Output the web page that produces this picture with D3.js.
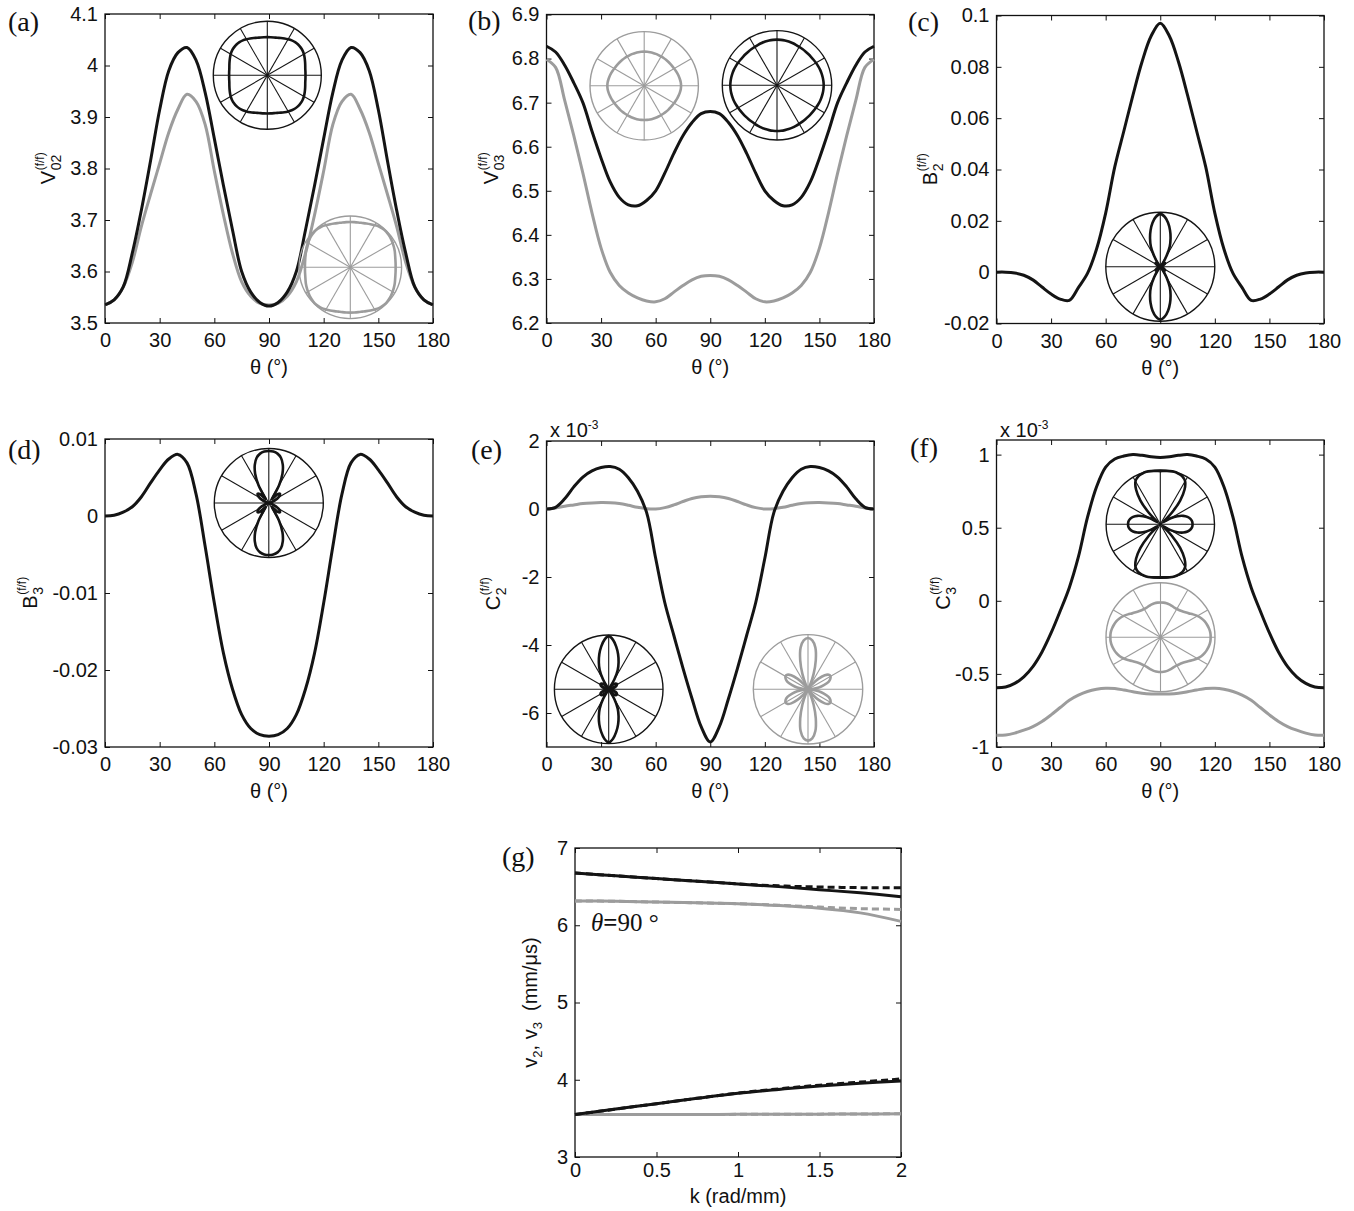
<!DOCTYPE html>
<html><head><meta charset="utf-8">
<script src="https://cdn.jsdelivr.net/npm/d3@7"></script>
<style>body{margin:0;background:#fff} svg{display:block}</style>
</head><body>
<svg id="c" width="1354" height="1211"></svg>
<script>
// ---------- data ----------
const theta = [0,5,10,15,20,25,30,35,40,45,50,55,60,65,70,75,80,85,90,95,100,105,110,115,120,125,130,135,140,145,150,155,160,165,170,175,180];
const thetaTicks = [0,30,60,90,120,150,180];

const v02Black = [3.535,3.545,3.57,3.636,3.72,3.815,3.914,3.99,4.025,4.035,4.01,3.947,3.858,3.767,3.68,3.60,3.56,3.54,3.533,3.54,3.56,3.60,3.68,3.767,3.858,3.947,4.01,4.035,4.025,3.99,3.914,3.815,3.72,3.636,3.57,3.545,3.535];
const v02Gray  = [3.535,3.545,3.57,3.618,3.688,3.75,3.81,3.87,3.915,3.944,3.93,3.885,3.795,3.71,3.635,3.58,3.552,3.538,3.535,3.538,3.552,3.58,3.635,3.71,3.795,3.885,3.93,3.944,3.915,3.87,3.81,3.75,3.688,3.618,3.57,3.545,3.535];
const v02Ticks = [3.5,3.6,3.7,3.8,3.9,4,4.1];

const v03Black = [6.828,6.815,6.785,6.745,6.70,6.635,6.574,6.52,6.485,6.468,6.466,6.478,6.50,6.54,6.585,6.625,6.655,6.675,6.68,6.675,6.655,6.625,6.585,6.54,6.50,6.478,6.466,6.468,6.485,6.52,6.574,6.635,6.70,6.745,6.785,6.815,6.828];
const v03Gray  = [6.798,6.78,6.705,6.625,6.54,6.45,6.37,6.315,6.285,6.268,6.257,6.25,6.248,6.255,6.27,6.285,6.298,6.306,6.308,6.306,6.298,6.285,6.27,6.255,6.248,6.25,6.257,6.268,6.285,6.315,6.37,6.45,6.54,6.625,6.705,6.78,6.798];
const v03Ticks = [6.2,6.3,6.4,6.5,6.6,6.7,6.8,6.9];

const b2Black = [0,0,-0.0003,-0.0012,-0.003,-0.0058,-0.0085,-0.0105,-0.011,-0.006,-0.0005,0.009,0.023,0.041,0.055,0.069,0.082,0.092,0.097,0.092,0.082,0.069,0.055,0.041,0.023,0.009,-0.0005,-0.006,-0.011,-0.0105,-0.0085,-0.0058,-0.003,-0.0012,-0.0003,0,0];
const b2Ticks = [-0.02,0,0.02,0.04,0.06,0.08,0.1];

const b3Black = [0,0.0001,0.0005,0.0012,0.0025,0.0043,0.006,0.0074,0.008,0.0069,0.0028,-0.004,-0.0113,-0.0178,-0.0225,-0.0258,-0.0276,-0.0284,-0.0286,-0.0284,-0.0276,-0.0258,-0.0225,-0.0178,-0.0113,-0.004,0.0028,0.0069,0.008,0.0074,0.006,0.0043,0.0025,0.0012,0.0005,0.0001,0];
const b3Ticks = [-0.03,-0.02,-0.01,0,0.01];

// C2, C3 in units of 1e-3
const c2Black = [0,0.05,0.3,0.65,0.94,1.12,1.22,1.25,1.17,0.92,0.52,-0.1,-1.45,-2.75,-3.72,-4.68,-5.58,-6.4,-6.85,-6.4,-5.58,-4.68,-3.72,-2.75,-1.45,-0.1,0.52,0.92,1.17,1.25,1.22,1.12,0.94,0.65,0.3,0.05,0];
const c2Gray  = [0,0.03,0.08,0.12,0.16,0.18,0.19,0.185,0.16,0.11,0.05,0.01,0,0.04,0.12,0.22,0.31,0.36,0.375,0.36,0.31,0.22,0.12,0.04,0,0.01,0.05,0.11,0.16,0.185,0.19,0.18,0.16,0.12,0.08,0.03,0];
const c2Ticks = [-6,-4,-2,0,2];

const c3Black = [-0.595,-0.59,-0.565,-0.52,-0.45,-0.35,-0.22,-0.07,0.09,0.3,0.57,0.78,0.915,0.97,0.99,1.0,0.995,0.985,0.98,0.985,0.995,1.0,0.99,0.97,0.915,0.78,0.57,0.3,0.09,-0.07,-0.22,-0.35,-0.45,-0.52,-0.565,-0.59,-0.595];
const c3Gray  = [-0.92,-0.918,-0.905,-0.885,-0.86,-0.825,-0.78,-0.73,-0.68,-0.645,-0.62,-0.605,-0.598,-0.6,-0.61,-0.622,-0.632,-0.637,-0.638,-0.637,-0.632,-0.622,-0.61,-0.6,-0.598,-0.605,-0.62,-0.645,-0.68,-0.73,-0.78,-0.825,-0.86,-0.885,-0.905,-0.918,-0.92];
const c3Ticks = [-1,-0.5,0,0.5,1];

// panel (g)
const kVals = [0,0.25,0.5,0.75,1,1.25,1.5,1.75,2];
const kTicks = [0,0.5,1,1.5,2];
const vTicks = [3,4,5,6,7];
const v3BlackSolid  = [6.675,6.64,6.605,6.57,6.535,6.5,6.46,6.42,6.37];
const v3BlackDashed = [6.675,6.64,6.605,6.57,6.535,6.51,6.495,6.487,6.485];
const v3GraySolid   = [6.315,6.31,6.3,6.29,6.278,6.255,6.22,6.16,6.05];
const v3GrayDashed  = [6.315,6.31,6.3,6.29,6.278,6.26,6.235,6.215,6.205];
const v2BlackSolid  = [3.55,3.62,3.69,3.76,3.825,3.875,3.92,3.955,3.985];
const v2BlackDashed = [3.55,3.62,3.69,3.76,3.828,3.882,3.93,3.97,4.01];
const v2GraySolid   = [3.55,3.55,3.55,3.551,3.552,3.553,3.555,3.557,3.56];
const v2GrayDashed  = [3.55,3.55,3.55,3.551,3.552,3.553,3.555,3.557,3.56];

// ---------- drawing ----------
const BLACK = '#141414', GRAY = '#9c9c9c';
const SANS = '"Liberation Sans", Arial, sans-serif';
const SERIF = '"Liberation Serif", "Times New Roman", serif';
const svg = d3.select('#c');
const fmt = d => String(+(+d).toFixed(4));

function makePanel(cfg) {
  const x = d3.scaleLinear().domain(cfg.xDomain).range([cfg.x0, cfg.x1]);
  const y = d3.scaleLinear().domain(cfg.yDomain).range([cfg.y1, cfg.y0]);
  const g = svg.append('g');
  const style = sel => {
    sel.selectAll('text').attr('font-family', SANS).attr('font-size', 20).attr('fill', '#111');
    sel.selectAll('line').attr('stroke', '#111').attr('stroke-width', 1);
    sel.select('.domain').remove();
  };
  g.append('g').attr('transform', `translate(0,${cfg.y1})`)
    .call(d3.axisBottom(x).tickValues(cfg.xTicks).tickFormat(fmt).tickSizeInner(-5).tickSizeOuter(0).tickPadding(cfg.xPad || 10)).call(style);
  g.append('g').attr('transform', `translate(0,${cfg.y0})`)
    .call(d3.axisTop(x).tickValues(cfg.xTicks).tickFormat('').tickSizeInner(-5).tickSizeOuter(0)).call(style);
  g.append('g').attr('transform', `translate(${cfg.x0},0)`)
    .call(d3.axisLeft(y).tickValues(cfg.yTicks).tickFormat(fmt).tickSizeInner(-5).tickSizeOuter(0).tickPadding(7)).call(style);
  g.append('g').attr('transform', `translate(${cfg.x1},0)`)
    .call(d3.axisRight(y).tickValues(cfg.yTicks).tickFormat('').tickSizeInner(-5).tickSizeOuter(0)).call(style);
  g.append('rect').attr('x', cfg.x0).attr('y', cfg.y0).attr('width', cfg.x1 - cfg.x0).attr('height', cfg.y1 - cfg.y0)
    .attr('fill', 'none').attr('stroke', '#111').attr('stroke-width', 1.3);
  g.append('text').attr('x', (cfg.x0 + cfg.x1) / 2).attr('y', cfg.y1 + cfg.xLabDy).attr('text-anchor', 'middle')
    .attr('font-family', SANS).attr('font-size', 20).attr('fill', '#111').text(cfg.xLabel);
  g.append('text').attr('x', cfg.letX).attr('y', cfg.letY).attr('font-family', SERIF).attr('font-size', 28)
    .attr('fill', '#111').text(cfg.letter);
  return {x, y, g};
}

function yLabel(xBase, cy, main, sub, sup) {
  const outer = svg.append('g').attr('transform', `translate(${xBase},${cy}) rotate(-90)`);
  const inner = outer.append('g');
  const t = inner.append('text').attr('font-family', SANS).attr('font-size', 20).attr('fill', '#111').text(main);
  const w = t.node().getComputedTextLength();
  let extra = 0;
  if (sub) {
    const s = inner.append('text').attr('x', w + 0.5).attr('y', 6).attr('font-family', SANS).attr('font-size', 14).attr('fill', '#111').text(sub);
    extra = Math.max(extra, s.node().getComputedTextLength());
  }
  if (sup) {
    const s = inner.append('text').attr('x', w + 0.5).attr('y', -11).attr('font-family', SANS).attr('font-size', 12).attr('fill', '#111').text(sup);
    extra = Math.max(extra, s.node().getComputedTextLength());
  }
  inner.attr('transform', `translate(${-(w + extra) / 2},0)`);
}

function drawSeries(p, xs, vals, color, dash) {
  const line = d3.line().x((d, i) => p.x(xs[i])).y(d => p.y(d)).curve(d3.curveCatmullRom);
  p.g.append('path').datum(vals).attr('d', line).attr('fill', 'none').attr('stroke', color)
    .attr('stroke-width', 3).attr('stroke-linejoin', 'round').attr('stroke-dasharray', dash || null);
}

function inset(cx, cy, pr, R, vals, color) {
  const g = svg.append('g');
  const rs = d3.scaleLinear().domain([0, R]).range([0, pr]);
  for (let a = 0; a < 180; a += 30) {
    const t = a * Math.PI / 180;
    g.append('line').attr('x1', cx - pr * Math.cos(t)).attr('y1', cy + pr * Math.sin(t))
      .attr('x2', cx + pr * Math.cos(t)).attr('y2', cy - pr * Math.sin(t))
      .attr('stroke', color).attr('stroke-width', 1.1);
  }
  g.append('circle').attr('cx', cx).attr('cy', cy).attr('r', pr).attr('fill', 'none').attr('stroke', color).attr('stroke-width', 1.4);
  const pts = [];
  for (let i = 0; i < 72; i++) {
    const phi = i * 5 * Math.PI / 180;
    const r = rs(Math.abs(vals[i % 36]));
    pts.push([cx + r * Math.cos(phi), cy - r * Math.sin(phi)]);
  }
  g.append('path').attr('d', d3.line().curve(d3.curveCatmullRomClosed)(pts))
    .attr('fill', 'none').attr('stroke', color).attr('stroke-width', 2.6).attr('stroke-linejoin', 'round');
}

const thetaLabel = 'θ (°)';

// (a)
const pa = makePanel({x0:105, x1:433, y0:14, y1:323, xDomain:[0,180], yDomain:[3.5,4.1], xTicks:thetaTicks, yTicks:v02Ticks,
  xLabel:thetaLabel, xLabDy:51, letter:'(a)', letX:8, letY:31});
drawSeries(pa, theta, v02Gray, GRAY);
drawSeries(pa, theta, v02Black, BLACK);
yLabel(55, 168.5, 'V', '02', '(f/f)');
inset(267.3, 75.3, 54, 5, v02Black, BLACK);
inset(350.3, 267.3, 51.3, 4, v02Gray, GRAY);

// (b)
const pb = makePanel({x0:546.5, x1:874, y0:14.5, y1:323, xDomain:[0,180], yDomain:[6.2,6.9], xTicks:thetaTicks, yTicks:v03Ticks,
  xLabel:thetaLabel, xLabDy:51, letter:'(b)', letX:468, letY:30});
drawSeries(pb, theta, v03Gray, GRAY);
drawSeries(pb, theta, v03Black, BLACK);
yLabel(498, 168.5, 'V', '03', '(f/f)');
inset(644.2, 85.8, 54.2, 10, v03Gray, GRAY);
inset(777, 85.3, 54.7, 8, v03Black, BLACK);

// (c)
const pc = makePanel({x0:996.5, x1:1324, y0:15.5, y1:323.5, xDomain:[0,180], yDomain:[-0.02,0.1], xTicks:thetaTicks, yTicks:b2Ticks,
  xLabel:thetaLabel, xLabDy:51, letter:'(c)', letX:908, letY:31});
drawSeries(pc, theta, b2Black, BLACK);
yLabel(937, 169.5, 'B', '2', '(f/f)');
inset(1160.3, 266.7, 54.5, 0.1, b2Black, BLACK);

// (d)
const pd = makePanel({x0:105, x1:433, y0:439, y1:747, xDomain:[0,180], yDomain:[-0.03,0.01], xTicks:thetaTicks, yTicks:b3Ticks,
  xLabel:thetaLabel, xLabDy:51, letter:'(d)', letX:8, letY:459});
drawSeries(pd, theta, b3Black, BLACK);
yLabel(37, 593, 'B', '3', '(f/f)');
inset(268.8, 503, 54.5, 0.03, b3Black, BLACK);

// (e)
const pe = makePanel({x0:546.5, x1:874, y0:441, y1:747, xDomain:[0,180], yDomain:[-7,2], xTicks:thetaTicks, yTicks:c2Ticks,
  xLabel:thetaLabel, xLabDy:51, letter:'(e)', letX:471, letY:459});
drawSeries(pe, theta, c2Gray, GRAY);
drawSeries(pe, theta, c2Black, BLACK);
yLabel(500, 594, 'C', '2', '(f/f)');
inset(608.7, 689.3, 54.3, 7, c2Black, BLACK);
inset(808, 689.3, 54.7, 0.4, c2Gray, GRAY);

// (f)
const pf = makePanel({x0:996.5, x1:1324, y0:440, y1:747, xDomain:[0,180], yDomain:[-1,1.1], xTicks:thetaTicks, yTicks:c3Ticks,
  xLabel:thetaLabel, xLabDy:51, letter:'(f)', letX:910, letY:457});
drawSeries(pf, theta, c3Gray, GRAY);
drawSeries(pf, theta, c3Black, BLACK);
yLabel(950, 593.5, 'C', '3', '(f/f)');
inset(1160.3, 524.2, 54.2, 1, c3Black, BLACK);
inset(1160.5, 637.2, 54.5, 1, c3Gray, GRAY);

// exponent labels
[[550, 437], [1000, 437]].forEach(([x, y]) => {
  const t = svg.append('text').attr('x', x).attr('y', y).attr('font-family', SANS).attr('font-size', 20).attr('fill', '#111');
  t.append('tspan').text('x 10');
  t.append('tspan').attr('dy', -8).attr('font-size', 12).text('-3');
});

// (g)
const pg = makePanel({x0:575, x1:901, y0:848, y1:1157, xDomain:[0,2], yDomain:[3,7], xTicks:kTicks, yTicks:vTicks,
  xLabel:'k (rad/mm)', xLabDy:46, xPad:6, letter:'(g)', letX:502, letY:866});
drawSeries(pg, kVals, v3GraySolid, GRAY);
drawSeries(pg, kVals, v2GraySolid, GRAY);
drawSeries(pg, kVals, v3GrayDashed, GRAY, '7,4');
drawSeries(pg, kVals, v2GrayDashed, GRAY, '7,4');
drawSeries(pg, kVals, v3BlackSolid, BLACK);
drawSeries(pg, kVals, v2BlackSolid, BLACK);
drawSeries(pg, kVals, v3BlackDashed, BLACK, '7,4');
drawSeries(pg, kVals, v2BlackDashed, BLACK, '7,4');
{
  const outer = svg.append('g').attr('transform', `translate(537,1002.5) rotate(-90)`);
  const t = outer.append('text').attr('text-anchor', 'middle').attr('font-family', SANS).attr('font-size', 20).attr('fill', '#111');
  t.append('tspan').text('v');
  t.append('tspan').attr('dy', 5).attr('font-size', 13).text('2');
  t.append('tspan').attr('dy', -5).text(', v');
  t.append('tspan').attr('dy', 5).attr('font-size', 13).text('3');
  t.append('tspan').attr('dy', -5).text('\u00a0\u00a0(mm/μs)');
}
{
  const t = svg.append('text').attr('x', 591).attr('y', 931).attr('font-family', SERIF).attr('font-size', 25).attr('fill', '#111');
  t.append('tspan').attr('font-style', 'italic').text('θ');
  t.append('tspan').attr('font-weight', 'bold').text('=');
  t.append('tspan').text('90 °');
}
</script>
</body></html>
